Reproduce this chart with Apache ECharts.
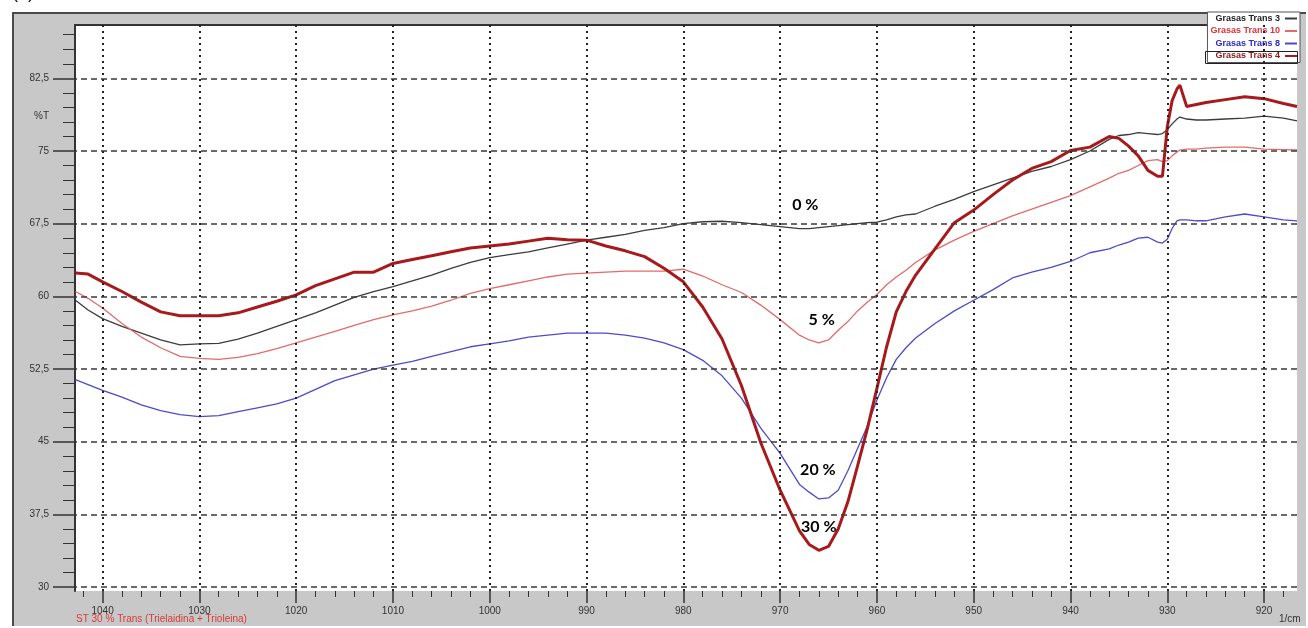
<!DOCTYPE html>
<html>
<head>
<meta charset="utf-8">
<script src="https://cdn.jsdelivr.net/npm/echarts@6/dist/echarts.min.js"></script>
<style>
html,body{margin:0;padding:0;background:#fff;}
#wrap{position:relative;width:1308px;height:628px;overflow:hidden;}
#panel{position:absolute;left:12px;top:12px;width:1294px;height:614px;background:#c8c8c8;border-top:2px solid #4a4a4a;border-left:2px solid #4a4a4a;box-sizing:border-box;}
#chart{position:absolute;left:0;top:0;width:1308px;height:628px;}
</style>
</head>
<body>
<div id="wrap"><div id="panel"></div><div id="chart"></div></div>
<script>
// ---------- data ----------
const wavenumber = [1042.8, 1041.5, 1040, 1038, 1036, 1034, 1032, 1030, 1028, 1026, 1024, 1022, 1020, 1018, 1016, 1014, 1012, 1010, 1008, 1006, 1004, 1002, 1000, 998, 996, 994, 992, 990, 988, 986, 984, 982, 980, 978, 976, 974, 972, 970, 968, 967, 966, 965, 964, 963, 962, 961, 960, 959, 958, 957, 956, 954, 952, 950, 948, 946, 944, 942, 940, 938, 936, 935, 934, 933, 932, 931, 930.5, 930, 929.5, 929, 928.7, 928, 927, 926, 924, 922, 920, 918, 916.6];

const trans0 = [59.6, 58.6, 57.7, 56.9, 56.2, 55.5, 55.0, 55.1, 55.15, 55.6, 56.2, 56.9, 57.6, 58.3, 59.1, 59.9, 60.5, 61.0, 61.6, 62.2, 62.9, 63.5, 64.0, 64.3, 64.6, 65.0, 65.4, 65.8, 66.1, 66.4, 66.8, 67.1, 67.5, 67.7, 67.75, 67.6, 67.4, 67.2, 67.0, 67.0, 67.1, 67.2, 67.3, 67.4, 67.5, 67.6, 67.65, 67.9, 68.2, 68.4, 68.5, 69.3, 70.0, 70.8, 71.5, 72.2, 72.9, 73.4, 74.1, 75.0, 76.2, 76.6, 76.7, 76.9, 76.8, 76.7, 76.8, 77.2, 77.8, 78.3, 78.5, 78.3, 78.2, 78.2, 78.3, 78.4, 78.6, 78.4, 78.1];

const trans5 = [60.5, 59.8, 58.8, 57.2, 55.8, 54.7, 53.8, 53.6, 53.5, 53.7, 54.1, 54.6, 55.2, 55.8, 56.4, 57.0, 57.6, 58.1, 58.5, 59.0, 59.6, 60.3, 60.8, 61.2, 61.6, 62.0, 62.3, 62.4, 62.5, 62.6, 62.6, 62.6, 62.8, 62.1, 61.2, 60.4, 59.1, 57.6, 56.0, 55.5, 55.2, 55.5, 56.5, 57.4, 58.5, 59.4, 60.2, 61.2, 62.0, 62.7, 63.5, 64.8, 65.8, 66.7, 67.5, 68.3, 69.0, 69.7, 70.4, 71.3, 72.2, 72.7, 73.0, 73.5, 74.0, 74.1, 73.9, 74.0, 74.5, 74.9, 75.1, 75.2, 75.2, 75.3, 75.4, 75.4, 75.2, 75.15, 75.1];

const trans20 = [51.4, 50.9, 50.3, 49.6, 48.8, 48.2, 47.8, 47.6, 47.7, 48.1, 48.5, 48.9, 49.5, 50.4, 51.3, 51.9, 52.5, 52.9, 53.3, 53.8, 54.3, 54.8, 55.1, 55.4, 55.8, 56.0, 56.2, 56.2, 56.2, 56.0, 55.7, 55.2, 54.5, 53.4, 51.8, 49.5, 46.4, 43.8, 40.6, 39.8, 39.1, 39.2, 40.0, 42.0, 44.3, 46.6, 49.3, 51.6, 53.5, 54.7, 55.7, 57.2, 58.5, 59.6, 60.7, 61.9, 62.5, 63.0, 63.6, 64.5, 64.9, 65.3, 65.6, 66.0, 66.1, 65.6, 65.5, 65.9, 67.0, 67.8, 67.9, 67.9, 67.8, 67.8, 68.2, 68.5, 68.2, 67.9, 67.8];

const trans30 = [62.4, 62.3, 61.5, 60.5, 59.4, 58.4, 58.0, 58.0, 58.0, 58.3, 58.9, 59.5, 60.15, 61.1, 61.8, 62.5, 62.5, 63.4, 63.8, 64.2, 64.6, 65.0, 65.2, 65.4, 65.7, 66.0, 65.85, 65.8, 65.2, 64.7, 64.1, 62.9, 61.5, 58.9, 55.6, 50.8, 44.9, 40.0, 35.8, 34.4, 33.8, 34.2, 36.0, 38.8, 42.5, 46.3, 50.5, 54.8, 58.4, 60.5, 62.2, 64.9, 67.6, 68.9, 70.5, 72.0, 73.2, 73.9, 75.05, 75.4, 76.5, 76.3, 75.5, 74.5, 73.0, 72.4, 72.4, 77.5, 80.2, 81.4, 81.8, 79.6, 79.8, 80.0, 80.3, 80.6, 80.4, 79.9, 79.6];

const seriesNames = ['Grasas Trans 3', 'Grasas Trans 10', 'Grasas Trans 8', 'Grasas Trans 4'];

const xMajorTicks = [1040, 1030, 1020, 1010, 1000, 990, 980, 970, 960, 950, 940, 930, 920];
const xMinorTicks = [1042, 1038, 1036, 1034, 1032, 1028, 1026, 1024, 1022, 1018, 1016, 1014, 1012, 1008, 1006, 1004, 1002, 998, 996, 994, 992, 988, 986, 984, 982, 978, 976, 974, 972, 968, 966, 964, 962, 958, 956, 954, 952, 948, 946, 944, 942, 938, 936, 934, 932, 928, 926, 924, 922, 918];
const yMajorTicks = [30, 37.5, 45, 52.5, 60, 67.5, 75, 82.5];
const yMinorTicks = [31.5, 33, 34.5, 36, 39, 40.5, 42, 43.5, 46.5, 48, 49.5, 51, 54, 55.5, 57, 58.5, 61.5, 63, 64.5, 66, 69, 70.5, 72, 73.5, 76.5, 78, 79.5, 81, 84, 85.5, 87];
const yUnitLabelAt = 78.6;

const annotX = [967.4, 965.7, 966.1, 966.0];
const annotY = [69.4, 57.6, 42.1, 36.2];
const annotText = ['0 %', '5 %', '20 %', '30 %'];

// ---------- chart ----------
const X_MIN = 916.6, X_MAX = 1042.85, Y_MIN = 29.6, Y_MAX = 88.0;
const FONT = 'Liberation Sans';
const pairs = arr => wavenumber.map((w, i) => [w, arr[i]]);
const lineColors = ['#3c3c3c', '#e46a6a', '#4b4bcc', '#a8191c'];
const legendTextColors = ['#222', '#e0303a', '#2a2acc', '#8a1a1a'];

const chart = echarts.init(document.getElementById('chart'));

const gridLines = xMajorTicks.map(v => ({xAxis: v, lineStyle: {type: [2, 4], width: 2, color: '#222'}}))
  .concat(yMajorTicks.map(v => ({yAxis: v, lineStyle: {type: [6, 4], width: 1.5, color: '#3a3a3a'}})));

const axisBase = {type: 'value', inverse: true, min: X_MIN, max: X_MAX, splitLine: {show: false}};
const yBase = {type: 'value', min: Y_MIN, max: Y_MAX, splitLine: {show: false}};

const option = {
  animation: false,
  textStyle: {fontFamily: FONT},
  grid: {left: 75, top: 25, width: 1222, height: 566, show: true, backgroundColor: '#ffffff', borderWidth: 0},
  legend: {
    orient: 'vertical', right: 8, top: 12, align: 'right', itemGap: 3.5,
    itemWidth: 12, itemHeight: 2, icon: 'rect',
    backgroundColor: '#ffffff', borderColor: '#555', borderWidth: 1, padding: [2, 3],
    textStyle: {fontSize: 9, fontFamily: FONT, fontWeight: 'bold'},
    data: seriesNames.map((n, i) => ({name: n, textStyle: {color: legendTextColors[i]}}))
  },
  xAxis: [
    Object.assign({}, axisBase, {
      position: 'bottom', axisLine: {show: false},
      axisTick: {show: true, customValues: xMajorTicks, length: 12, lineStyle: {color: '#333', width: 1.5}},
      axisLabel: {customValues: xMajorTicks, margin: 15, fontSize: 10, color: '#333', fontFamily: FONT,
        formatter: v => String(v)}
    }),
    Object.assign({}, axisBase, {
      position: 'bottom', axisLine: {show: false},
      axisTick: {show: true, customValues: xMinorTicks, length: 6, lineStyle: {color: '#333', width: 1}},
      axisLabel: {show: false}
    }),
    Object.assign({}, axisBase, {
      position: 'top', axisLine: {show: true, lineStyle: {color: '#333', width: 2}},
      axisTick: {show: false}, axisLabel: {show: false}
    })
  ],
  yAxis: [
    Object.assign({}, yBase, {
      position: 'left', axisLine: {show: true, lineStyle: {color: '#333', width: 2}},
      axisTick: {show: true, customValues: yMajorTicks, length: 22, lineStyle: {color: '#333', width: 1.5}},
      axisLabel: {
        customValues: yMajorTicks.concat([yUnitLabelAt]), margin: 26, fontSize: 10, color: '#333', fontFamily: FONT,
        formatter: v => (v === yUnitLabelAt ? '%T' : String(v).replace('.', ','))
      }
    }),
    Object.assign({}, yBase, {
      position: 'left', axisLine: {show: false},
      axisTick: {show: true, customValues: yMinorTicks, length: 12, lineStyle: {color: '#333', width: 1}},
      axisLabel: {show: false}
    })
  ],
  graphic: [
    {type: 'text', left: 12, top: -16, style: {text: '(b)', fontSize: 18, fill: '#111', fontFamily: FONT}},
    {type: 'text', left: 76, top: 614, style: {text: 'ST 30 % Trans (Trielaidina + Trioleina)', fontSize: 10, fill: '#d83a3a', fontFamily: FONT}},
    {type: 'text', left: 1279, top: 614, style: {text: '1/cm', fontSize: 10, fill: '#333', fontFamily: FONT}},
    {type: 'rect', left: 1203, top: 49, z: 200, shape: {width: 92, height: 12}, style: {fill: 'none', stroke: '#222', lineWidth: 1}}
  ],
  series: [
    {
      type: 'line', name: 'gridlines', data: [], silent: true, z: 1,
      markLine: {silent: true, symbol: ['none', 'none'], label: {show: false}, animation: false, data: gridLines}
    },
    {type: 'line', name: seriesNames[0], data: pairs(trans0), showSymbol: false, symbol: 'none', z: 3,
      lineStyle: {color: lineColors[0], width: 1.3}, itemStyle: {color: lineColors[0]}},
    {type: 'line', name: seriesNames[1], data: pairs(trans5), showSymbol: false, symbol: 'none', z: 3,
      lineStyle: {color: lineColors[1], width: 1.3}, itemStyle: {color: lineColors[1]}},
    {type: 'line', name: seriesNames[2], data: pairs(trans20), showSymbol: false, symbol: 'none', z: 3,
      lineStyle: {color: lineColors[2], width: 1.3}, itemStyle: {color: lineColors[2]}},
    {type: 'line', name: seriesNames[3], data: pairs(trans30), showSymbol: false, symbol: 'none', z: 4,
      lineStyle: {color: lineColors[3], width: 3}, itemStyle: {color: lineColors[3]}},
    {
      type: 'scatter', name: 'annotations', symbolSize: 0, z: 6, silent: true,
      itemStyle: {opacity: 1, color: '#000'},
      data: annotX.map((x, i) => ({value: [x, annotY[i]], name: annotText[i]})),
      label: {show: true, position: 'inside', formatter: '{b}', fontSize: 16, fontWeight: 'bold', color: '#000',
        textBorderWidth: 0, opacity: 1, fontFamily: 'Lato'}
    }
  ]
};
chart.setOption(option);
</script>
</body>
</html>
